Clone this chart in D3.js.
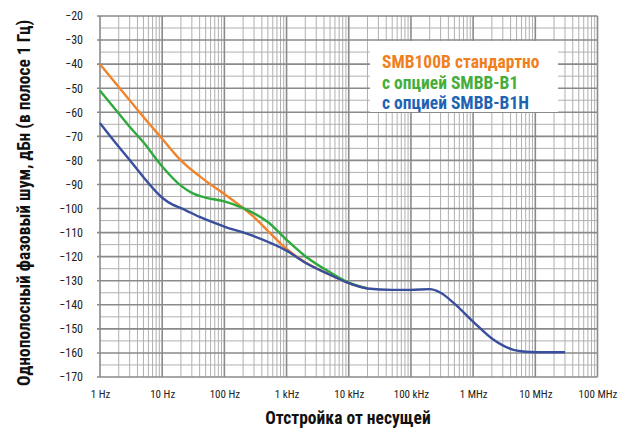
<!DOCTYPE html>
<html><head><meta charset="utf-8">
<script src="https://cdn.jsdelivr.net/npm/d3@7"></script>
<style>
body{margin:0;background:#fff;}
svg{display:block;}
text{font-family:"Liberation Sans Narrow","Arial Narrow","Roboto Condensed","Liberation Sans",sans-serif;}
</style></head>
<body><svg id="c" width="624" height="429"></svg>
<script>
// Data (frequency offset in Hz, phase noise in dBc/Hz)
const freqTicks = [1, 10, 100, 1e3, 1e4, 1e5, 1e6, 1e7, 1e8];
const freqTickLabels = ["1 Hz","10 Hz","100 Hz","1 kHz","10 kHz","100 kHz","1 MHz","10 MHz","100 MHz"];
const dbTicks = [-20,-30,-40,-50,-60,-70,-80,-90,-100,-110,-120,-130,-140,-150,-160,-170];
const seriesNames = ["SMB100B стандартно","с опцией SMBB-B1","с опцией SMBB-B1H"];
const orangeF = [1, 2, 3, 5, 10, 20, 50, 100, 200, 300, 500, 1000, 2000, 5000, 10000, 20000];
const orangeV = [-40, -49.5, -55, -62, -71, -80, -88.5, -94, -99.8, -103.6, -109.3, -116.8, -122.3, -127.5, -131, -133.2];
const greenF = [1, 2, 3, 5, 10, 20, 30, 50, 100, 200, 300, 500, 1000, 2000, 5000, 10000, 20000];
const greenV = [-51, -60.5, -66, -72.5, -82.5, -90.5, -93.5, -95.5, -97, -99.8, -102, -105.6, -113, -119.8, -126.5, -130.8, -133.2];
const blueF = [1, 2, 3, 5, 10, 15, 20, 40, 100, 300, 1000, 2000, 5000, 10000, 20000, 50000, 100000, 200000, 300000, 500000, 1e6, 2e6, 4e6, 7e6, 1e7, 3e7];
const blueV = [-64.5, -74.3, -79.8, -87, -95.5, -98.5, -99.8, -103.5, -107.5, -111.5, -117.5, -122.5, -127.5, -131, -133.2, -133.8, -133.8, -133.5, -135, -139.5, -147, -154, -158.3, -159.5, -159.7, -159.7];
const colors = ["#F0842A", "#2EAA3C", "#3A4E9E"];
const textColors = ["#F07F1E", "#45AE3A", "#1F63B3"];

const svg = d3.select("#c");
const x = d3.scaleLog().domain([1, 1e8]).range([100, 597.5]);
const y = d3.scaleLinear().domain([-170, -20]).range([377, 16]);

// grid
const minorF = [];
for (let d = 0; d < 8; d++) for (let k = 2; k <= 9; k++) minorF.push(k * Math.pow(10, d));
const minorDb = d3.range(-165, -20, 10);
const g = svg.append("g");
g.selectAll(".vmin").data(minorF).enter().append("line")
  .attr("x1", d => x(d)).attr("x2", d => x(d)).attr("y1", y(-20)).attr("y2", y(-170))
  .attr("stroke", "#b0b0b0").attr("stroke-width", 1);
g.selectAll(".hmin").data(minorDb).enter().append("line")
  .attr("x1", x(1)).attr("x2", x(1e8)).attr("y1", d => y(d)).attr("y2", d => y(d))
  .attr("stroke", "#b0b0b0").attr("stroke-width", 1);
g.selectAll(".vmaj").data(freqTicks).enter().append("line")
  .attr("x1", d => x(d)).attr("x2", d => x(d)).attr("y1", y(-20)).attr("y2", y(-170))
  .attr("stroke", "#8a8a8a").attr("stroke-width", 1.6);
g.selectAll(".hmaj").data(dbTicks).enter().append("line")
  .attr("x1", x(1) - 3).attr("x2", x(1e8)).attr("y1", d => y(d)).attr("y2", d => y(d))
  .attr("stroke", "#8a8a8a").attr("stroke-width", 1.6);

// axes labels
const xAxis = d3.axisBottom(x).tickValues(freqTicks).tickFormat((d, i) => freqTickLabels[i]).tickSize(0).tickPadding(13);
const xg = svg.append("g").attr("transform", `translate(0,${y(-170)})`).call(xAxis);
xg.select(".domain").remove();
xg.selectAll("text").attr("font-size", 11).attr("fill", "#222");
const yAxis = d3.axisLeft(y).tickValues(dbTicks).tickFormat(d => "−" + Math.abs(d)).tickSize(0).tickPadding(17);
const yg = svg.append("g").attr("transform", `translate(${x(1)},0)`).call(yAxis);
yg.select(".domain").remove();
yg.selectAll("text").attr("font-size", 12).attr("fill", "#222");

// legend box
svg.append("rect").attr("x", 370).attr("y", 41).attr("width", 188).attr("height", 71).attr("fill", "#fff");
svg.selectAll(".leg").data(seriesNames).enter().append("text")
  .attr("x", 382).attr("y", (d, i) => 68 + i * 20.5)
  .attr("fill", (d, i) => textColors[i]).attr("font-weight", "bold").attr("font-size", 17.5)
  .text(d => d);

// lines
const line = d3.line().x(d => x(d[0])).y(d => y(d[1])).curve(d3.curveMonotoneX);
const series = [d3.zip(orangeF, orangeV), d3.zip(greenF, greenV), d3.zip(blueF, blueV)];
svg.selectAll(".ln").data(series).enter().append("path")
  .attr("d", line).attr("fill", "none")
  .attr("stroke", (d, i) => colors[i]).attr("stroke-width", 2.4).attr("stroke-linejoin", "round");

// titles
svg.append("text").attr("x", 348).attr("y", 424).attr("text-anchor", "middle")
  .attr("font-weight", "bold").attr("font-size", 17.5).attr("fill", "#111").text("Отстройка от несущей");
svg.append("text").attr("transform", "translate(30,203) rotate(-90)").attr("text-anchor", "middle")
  .attr("font-weight", "bold").attr("font-size", 17.5).attr("fill", "#111")
  .text("Однополосный фазовый шум, дБн (в полосе 1 Гц)");
</script></body></html>
